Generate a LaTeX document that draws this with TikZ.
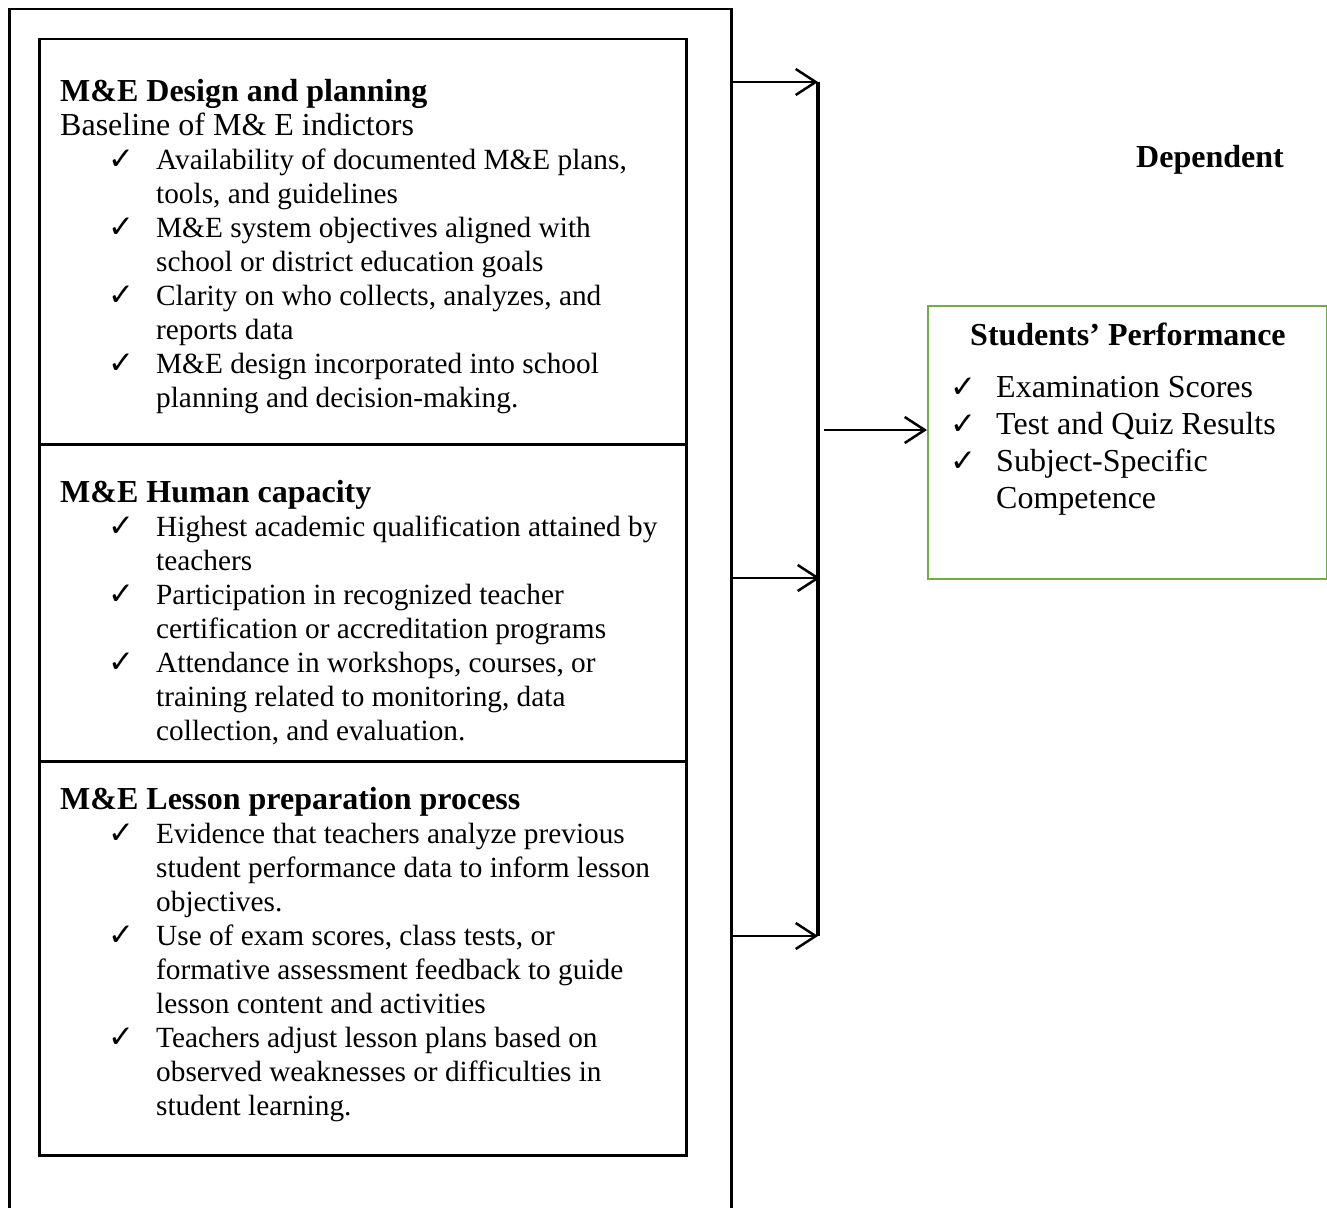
\documentclass[tikz,border=0pt]{standalone}
\usepackage{fontspec}
\setmainfont{Liberation Serif}
\newfontfamily\tickfont{DejaVu Sans}
\usetikzlibrary{positioning,arrows.meta}

\definecolor{perfgreen}{RGB}{112,173,71}

% check mark items, continuation lines and headings
\newcommand{\tick}{\hspace*{48pt}\makebox[48pt][l]{\tickfont\fontsize{31pt}{34pt}\selectfont ✓}}
\newcommand{\cont}{\hspace*{96pt}}
\newcommand{\ptick}{\makebox[46pt][l]{\tickfont\fontsize{31pt}{37pt}\selectfont ✓}}
\newcommand{\hd}[1]{{\fontsize{32pt}{34pt}\selectfont\bfseries #1}}
\newcommand{\subhd}[1]{{\fontsize{32pt}{34pt}\selectfont #1}}

\begin{document}
\begin{tikzpicture}[
x=1pt, y=-1pt,
panel/.style={draw, line width=2.5pt, anchor=north west, inner sep=0pt},
txt/.style={anchor=north west, inner sep=0pt, align=left, font=\fontsize{29.3pt}{34pt}\selectfont},
link/.style={-{Straight Barb[length=20pt,width=26pt]}, line width=2.5pt}
]
\useasboundingbox (0,0) rectangle (1327,1207);

\node (frame) [panel, minimum width=722pt, minimum height=1300pt] at (8,8) {};

\node (design) [panel, minimum width=647pt, minimum height=405pt] at (38,38) {};
\node (human) [panel, minimum width=647pt, minimum height=317pt] at (38,443) {};
\node (lesson) [panel, minimum width=647pt, minimum height=394pt] at (38,760) {};

\node (designtxt) [txt] at (60,77) {\strut\hd{M\&E Design and planning}\\
\subhd{Baseline of M\& E indictors}\\
\tick Availability of documented M\&E plans,\\
\cont tools, and guidelines\\
\tick M\&E system objectives aligned with\\
\cont school or district education goals\\
\tick Clarity on who collects, analyzes, and\\
\cont reports data\\
\tick M\&E design incorporated into school\\
\cont planning and decision-making.};

\node (humantxt) [txt] at (60,478) {\strut\hd{M\&E Human capacity}\\
\tick Highest academic qualification attained by\\
\cont teachers\\
\tick Participation in recognized teacher\\
\cont certification or accreditation programs\\
\tick Attendance in workshops, courses, or\\
\cont training related to monitoring, data\\
\cont collection, and evaluation.};

\node (lessontxt) [txt] at (60,785) {\strut\hd{M\&E Lesson preparation process}\\
\tick Evidence that teachers analyze previous\\
\cont student performance data to inform lesson\\
\cont objectives.\\
\tick Use of exam scores, class tests, or\\
\cont formative assessment feedback to guide\\
\cont lesson content and activities\\
\tick Teachers adjust lesson plans based on\\
\cont observed weaknesses or difficulties in\\
\cont student learning.};

\node (perf) [panel, draw=perfgreen, line width=2.2pt, minimum width=399pt, minimum height=273pt] at (927,305) {};
\node (perftxt) [txt, font=\fontsize{32pt}{37pt}\selectfont] at (950,319) {\strut\hspace*{20pt}\textbf{Students’ Performance}\\[15pt]
\ptick Examination Scores\\
\ptick Test and Quiz Results\\
\ptick Subject-Specific\\
\hspace*{46pt}Competence};

\node (dep) [anchor=base west, inner sep=0pt, font=\fontsize{32pt}{34pt}\selectfont\bfseries] at (1136,167) {Dependent};

\coordinate (bartop) at (818,82);
\coordinate (barmid) at (820,578);
\coordinate (barbot) at (818,936);
\coordinate (outbar) at (824,430);

\draw[line width=4pt] (bartop) -- (barbot);
\draw[link] (frame.east |- bartop) -- (bartop);
\draw[link] (frame.east |- barmid) -- (barmid);
\draw[link] (frame.east |- barbot) -- (barbot);
\draw[link] (outbar) -- (perf.west |- outbar);

\end{tikzpicture}
\end{document}
